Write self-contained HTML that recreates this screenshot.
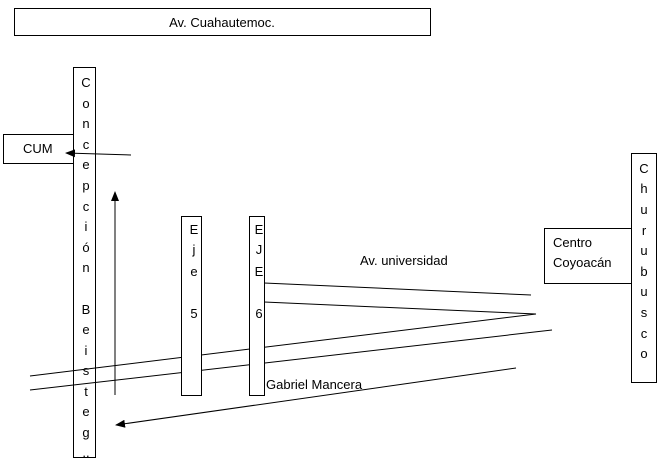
<!DOCTYPE html>
<html><head><style>body{margin:0;background:#fff}svg{display:block}text{font-family:"Liberation Sans",sans-serif;font-size:13px;fill:#000}</style></head>
<body>
<svg width="665" height="464" viewBox="0 0 665 464">
<defs><marker id="a" markerWidth="10" markerHeight="8" refX="9" refY="4" orient="auto" markerUnits="userSpaceOnUse"><path d="M0,0 L10,4 L0,8 z" fill="#000"/></marker></defs>
<g fill="none" stroke="#000" stroke-width="1">
<rect x="14.5" y="8.5" width="416" height="27"/>
<rect x="3.5" y="134.5" width="70" height="29"/>
<rect x="73.5" y="67.5" width="22" height="390"/>
<rect x="181.5" y="216.5" width="20" height="179"/>
<rect x="249.5" y="216.5" width="15" height="179"/>
<rect x="544.5" y="228.5" width="87" height="55"/>
<rect x="631.5" y="153.5" width="25" height="229"/>
<line x1="131" y1="155" x2="66" y2="153" marker-end="url(#a)"/>
<line x1="115" y1="395" x2="115" y2="192" marker-end="url(#a)"/>
<line x1="264" y1="283" x2="531" y2="295"/>
<line x1="264" y1="302" x2="536" y2="314"/>
<line x1="30" y1="376" x2="536" y2="314"/>
<line x1="30" y1="390" x2="552" y2="330"/>
<line x1="516" y1="368" x2="116" y2="425" marker-end="url(#a)"/>
</g>
<rect x="182" y="217" width="19" height="178" fill="#fff"/>
<rect x="250" y="217" width="14" height="178" fill="#fff"/>
<text x="222" y="27" text-anchor="middle">Av. Cuahautemoc.</text>
<text x="23" y="153">CUM</text>
<g text-anchor="middle">
<text x="86" y="87">C</text><text x="86" y="108">o</text><text x="86" y="128">n</text><text x="86" y="149">c</text><text x="86" y="169">e</text><text x="86" y="190">p</text><text x="86" y="211">c</text><text x="86" y="231">i</text><text x="86" y="252">ó</text><text x="86" y="272">n</text><text x="86" y="314">B</text><text x="86" y="334">e</text><text x="86" y="355">i</text><text x="86" y="375">s</text><text x="86" y="396">t</text><text x="86" y="416">e</text><text x="86" y="437">g</text><text x="86" y="457">..</text>
<text x="194" y="234">E</text><text x="194" y="254">j</text><text x="194" y="276">e</text><text x="194" y="318">5</text>
<text x="259" y="234">E</text><text x="259" y="254">J</text><text x="259" y="276">E</text><text x="259" y="318">6</text>
<text x="644" y="173">C</text><text x="644" y="193">h</text><text x="644" y="214">u</text><text x="644" y="235">r</text><text x="644" y="255">u</text><text x="644" y="276">b</text><text x="644" y="296">u</text><text x="644" y="317">s</text><text x="644" y="338">c</text><text x="644" y="358">o</text>
</g>
<text x="360" y="265">Av. universidad</text>
<text x="553" y="247">Centro</text>
<text x="553" y="267">Coyoacán</text>
<text x="266" y="389">Gabriel Mancera</text>
</svg>
</body></html>
